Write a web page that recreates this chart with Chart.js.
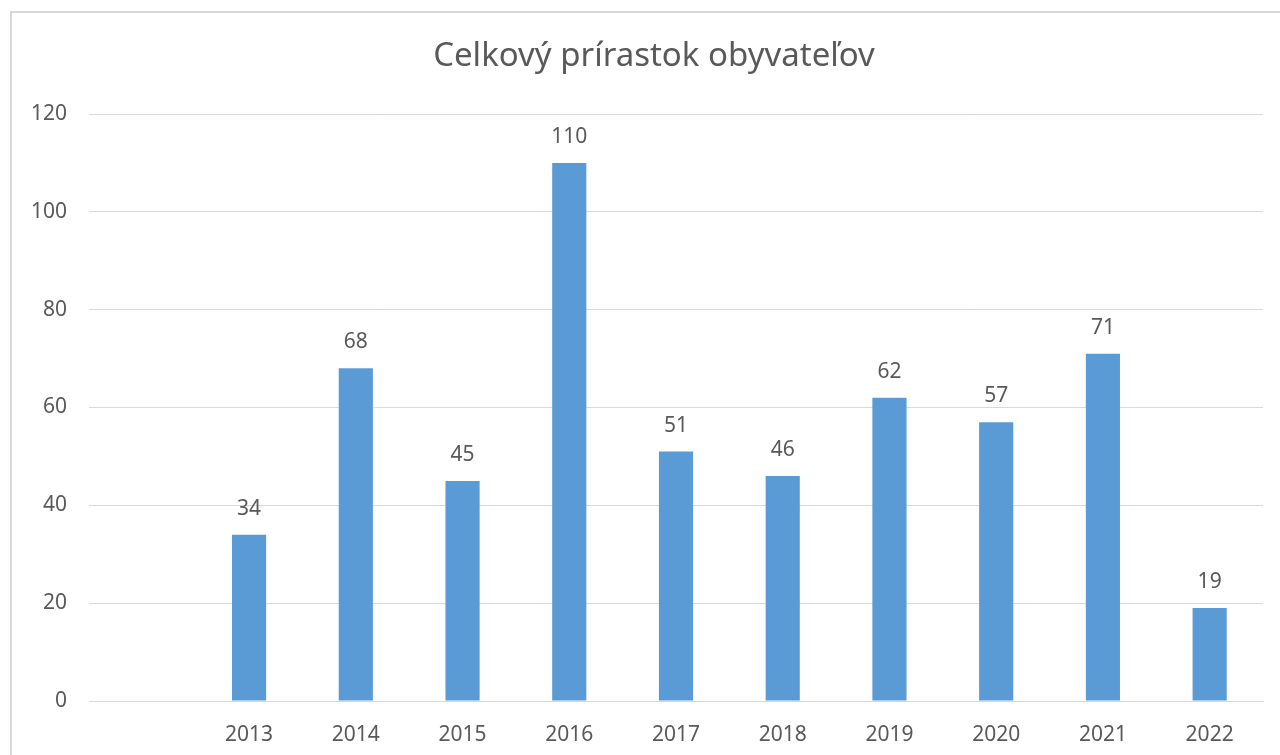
<!DOCTYPE html>
<html>
<head>
<meta charset="utf-8">
<script src="https://cdn.jsdelivr.net/npm/chart.js@4/dist/chart.umd.min.js"></script>
<style>
  html, body { margin: 0; padding: 0; background: #fff; overflow: hidden; }
  #frame { position: absolute; left: 10px; top: 11px; width: 1288px; height: 760px; border: 2px solid #d9d9d9; box-sizing: border-box; background: #fff; }
  #frame canvas { position: absolute; left: 0; top: 0; }
</style>
</head>
<body>
<div id="frame"><canvas id="chart"></canvas></div>
<script>
const categories = ['', '2013', '2014', '2015', '2016', '2017', '2018', '2019', '2020', '2021', '2022'];
const values = [null, 34, 68, 45, 110, 51, 46, 62, 57, 71, 19];
const yTicks = [0, 20, 40, 60, 80, 100, 120];
const chartTitle = 'Celkový prírastok obyvateľov';

const textColor = '#595959';
const fontFamily = '"Noto Sans", "Open Sans", sans-serif';

// title centred on the whole canvas, like the office chart
const canvasTitle = {
  id: 'canvasTitle',
  afterDraw(chart) {
    const ctx = chart.ctx;
    ctx.save();
    ctx.fillStyle = textColor;
    ctx.font = '33px ' + fontFamily;
    ctx.textAlign = 'center';
    ctx.textBaseline = 'middle';
    ctx.fillText(chartTitle, chart.width / 2, 44);
    ctx.restore();
  }
};

// labels above every bar
const valueLabels = {
  id: 'valueLabels',
  afterDatasetsDraw(chart) {
    const ctx = chart.ctx;
    const meta = chart.getDatasetMeta(0);
    ctx.save();
    ctx.fillStyle = textColor;
    ctx.font = '21px ' + fontFamily;
    ctx.textAlign = 'center';
    ctx.textBaseline = 'middle';
    meta.data.forEach(function(bar, i) {
      if (values[i] == null) return;
      ctx.fillText(String(values[i]), bar.x, bar.y - 26);
    });
    ctx.restore();
  }
};

const canvas = document.getElementById('chart');
canvas.width = 1284;
canvas.height = 756;

new Chart(canvas, {
  type: 'bar',
  data: {
    labels: categories,
    datasets: [{
      data: values,
      backgroundColor: '#5b9bd5',
      barPercentage: 0.5,
      categoryPercentage: 0.64
    }]
  },
  options: {
    responsive: false,
    animation: false,
    layout: { padding: { left: 0, right: 33, top: 101, bottom: 10 } },
    plugins: {
      legend: { display: false },
      tooltip: { enabled: false },
      title: { display: false }
    },
    scales: {
      x: {
        grid: { display: false },
        border: { color: '#d9d9d9', width: 1 },
        ticks: { color: textColor, font: { family: fontFamily, size: 21 }, padding: 13, maxRotation: 0 },
        afterFit(scale) { scale.height = 58; }
      },
      y: {
        min: 0,
        max: 120,
        afterBuildTicks(scale) { scale.ticks = yTicks.map(function(v) { return { value: v }; }); },
        grid: { color: '#d9d9d9', drawTicks: false },
        border: { display: false },
        ticks: { color: textColor, font: { family: fontFamily, size: 21 }, padding: 22 },
        afterFit(scale) { scale.width = 77; }
      }
    }
  },
  plugins: [valueLabels, canvasTitle]
});
</script>
</body>
</html>
